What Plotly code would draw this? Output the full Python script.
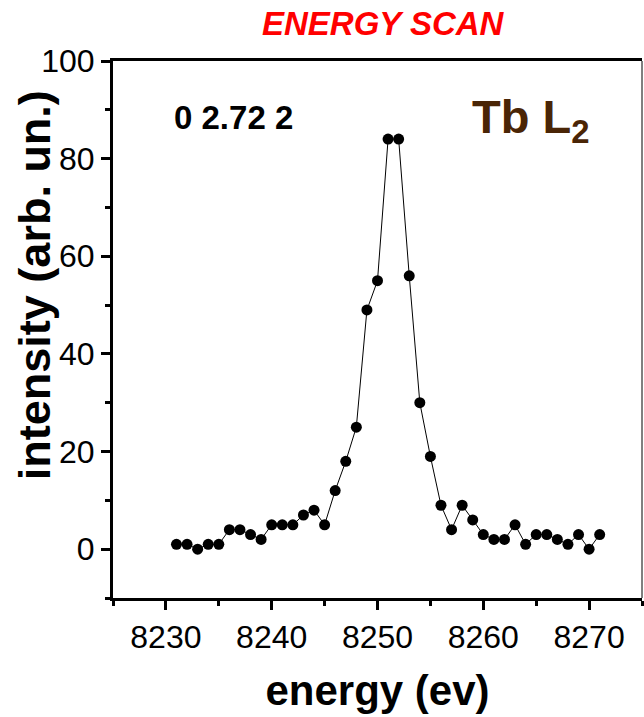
import plotly.graph_objects as go

energy = [8231, 8232, 8233, 8234, 8235, 8236, 8237, 8238, 8239, 8240,
          8241, 8242, 8243, 8244, 8245, 8246, 8247, 8248, 8249, 8250,
          8251, 8252, 8253, 8254, 8255, 8256, 8257, 8258, 8259, 8260,
          8261, 8262, 8263, 8264, 8265, 8266, 8267, 8268, 8269, 8270, 8271]
intensity = [1, 1, 0, 1, 1, 4, 4, 3, 2, 5,
             5, 5, 7, 8, 5, 12, 18, 25, 49, 55,
             84, 84, 56, 30, 19, 9, 4, 9, 6, 3,
             2, 2, 5, 1, 3, 3, 2, 1, 3, 0, 3]

x_ticks = [8230, 8240, 8250, 8260, 8270]
y_ticks = [0, 20, 40, 60, 80, 100]

FONT = "Liberation Sans, Arial, sans-serif"

fig = go.Figure()
fig.add_trace(go.Scatter(
    x=energy, y=intensity, mode="lines+markers",
    line=dict(color="black", width=1),
    marker=dict(color="black", size=11, symbol="circle"),
    showlegend=False,
))

fig.update_layout(
    width=644, height=717,
    margin=dict(l=113, r=2, t=61, b=119),
    paper_bgcolor="white", plot_bgcolor="white",
    font=dict(family=FONT, color="black"),
    xaxis=dict(
        range=[8225, 8275], tickvals=x_ticks, ticktext=[str(v) for v in x_ticks],
        ticks="outside", ticklen=9, tickwidth=3, tickcolor="black",
        showline=True, linewidth=3, linecolor="black", mirror=True,
        showgrid=False, zeroline=False,
        tickfont=dict(size=32, family=FONT),
        minor=dict(dtick=5, tick0=8225, ticks="outside", ticklen=5, tickwidth=3, tickcolor="black", showgrid=False),
        title=dict(text="energy (ev)", font=dict(size=42, family=FONT, weight="bold"), standoff=22),
    ),
    yaxis=dict(
        range=[-10, 100], tickvals=y_ticks, ticktext=[str(v) for v in y_ticks],
        ticks="outside", ticklen=9, tickwidth=3, tickcolor="black",
        showline=True, linewidth=3, linecolor="black", mirror=False,
        showgrid=False, zeroline=False,
        tickfont=dict(size=32, family=FONT),
        minor=dict(dtick=10, tick0=-10, ticks="outside", ticklen=5, tickwidth=3, tickcolor="black", showgrid=False),
    ),
    shapes=[dict(type="line", xref="paper", yref="paper", x0=1, x1=1, y0=0, y1=1,
                 line=dict(color="black", width=1))],
    annotations=[
        dict(text="<b>intensity (arb. un.)</b>", xref="paper", yref="paper", x=-0.147, y=0.583,
             xanchor="center", yanchor="middle", showarrow=False, textangle=-90,
             font=dict(size=45, color="black", family=FONT)),
        dict(text="<i><b>ENERGY SCAN</b></i>", xref="paper", yref="paper", x=0.512, y=1.07,
             xanchor="center", yanchor="middle", showarrow=False,
             font=dict(size=33, color="#ff0000", family=FONT)),
        dict(text="<b>0 2.72 2</b>", xref="paper", yref="paper", x=0.227, y=0.894,
             xanchor="center", yanchor="middle", showarrow=False,
             font=dict(size=33, color="black", family=FONT)),
        dict(text="<b>Tb L<sub>2</sub></b>", xref="paper", yref="paper", x=0.675, y=0.89,
             xanchor="left", yanchor="middle", showarrow=False,
             font=dict(size=47, color="#4a2506", family=FONT)),
    ],
)

fig.write_html("out.html")
